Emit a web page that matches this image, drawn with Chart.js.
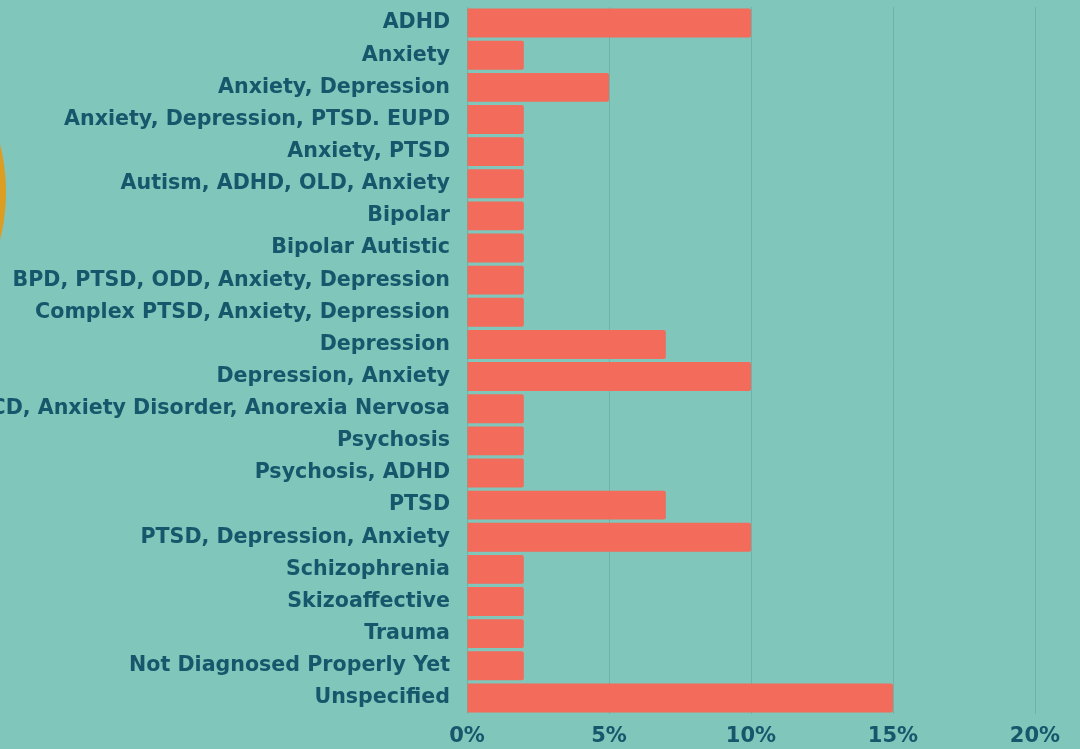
<!DOCTYPE html>
<html><head><meta charset="utf-8">
<script src="https://cdn.jsdelivr.net/npm/chart.js@4"></script>
<style>html,body{margin:0;padding:0;background:#80c6bb;}#wrap{width:1080px;height:749px;position:relative;}</style>
</head><body><div id="wrap"><canvas id="c" width="1080" height="749"></canvas></div>
<script>
const categories = ["ADHD","Anxiety","Anxiety, Depression","Anxiety, Depression, PTSD. EUPD","Anxiety, PTSD","Autism, ADHD, OLD, Anxiety","Bipolar","Bipolar Autistic","BPD, PTSD, ODD, Anxiety, Depression","Complex PTSD, Anxiety, Depression","Depression","Depression, Anxiety","OCD, Anxiety Disorder, Anorexia Nervosa","Psychosis","Psychosis, ADHD","PTSD","PTSD, Depression, Anxiety","Schizophrenia","Skizoaffective","Trauma","Not Diagnosed Properly Yet","Unspecified"];
const percentages = [10,2,5,2,2,2,2,2,2,2,7,10,2,2,2,7,10,2,2,2,2,15];
const xTicks = [0,5,10,15,20];

const decor = {
  id:'decor',
  beforeDraw(chart){
    const ctx = chart.ctx;
    ctx.save();
    ctx.fillStyle = '#80c6bb';
    ctx.fillRect(0,0,chart.width,chart.height);
    ctx.beginPath();
    ctx.arc(-189,192,195,0,Math.PI*2);
    ctx.fillStyle = '#dd9d22';
    ctx.fill();
    ctx.restore();
  }
};

const FONT = "'DejaVu Sans', sans-serif";
new Chart(document.getElementById('c'), {
  type:'bar',
  data:{labels:categories, datasets:[{data:percentages, backgroundColor:'#f26b5b', borderRadius:2, barPercentage:0.9, categoryPercentage:1.0}]},
  options:{
    indexAxis:'y', responsive:false, animation:false,
    layout:{padding:{top:7,right:45,bottom:0,left:0}},
    plugins:{legend:{display:false}, tooltip:{enabled:false}},
    scales:{
      x:{min:0,max:20,
        afterBuildTicks(s){ s.ticks = xTicks.map(v=>({value:v})); },
        afterFit(s){ s.height = 35; s.paddingLeft = 0; s.paddingRight = 0; },
        grid:{color:'#6db3a9',lineWidth:1,drawTicks:false},
        border:{display:false},
        ticks:{padding:10,color:'#17566b',font:{family:FONT,size:21,weight:'bold'},callback:v=>v+'%',maxRotation:0}
      },
      y:{
        afterFit(s){ s.width = 467; s.paddingTop = 0; s.paddingBottom = 0; },
        grid:{display:false,drawTicks:false},
        border:{display:false},
        ticks:{padding:17,color:'#17566b',font:{family:FONT,size:20.6,weight:'bold'},autoSkip:false}
      }
    }
  },
  plugins:[decor]
});
</script></body></html>
